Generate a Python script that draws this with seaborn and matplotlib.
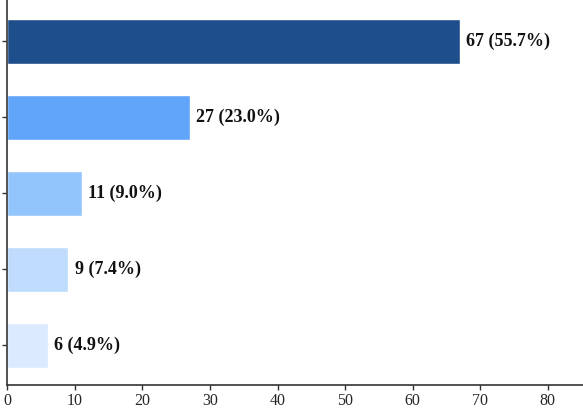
import matplotlib
matplotlib.use("Agg")
import matplotlib.pyplot as plt
import seaborn as sns
import pandas as pd

# Values (category names are not shown in the picture)
categories = ["Category 1", "Category 2", "Category 3", "Category 4", "Category 5"]
counts = [67, 27, 11, 9, 6]
percents = [55.7, 23.0, 9.0, 7.4, 4.9]
colors = ["#1f4e8c", "#60a5fa", "#93c5fd", "#bfdbfe", "#dbeafe"]

df = pd.DataFrame({"category": categories, "count": counts})

sns.set_style("white")
plt.rcParams["font.family"] = ["Liberation Serif", "DejaVu Serif"]

fig = plt.figure(figsize=(5.83, 4.09), dpi=100)
ax = fig.add_axes([0.0125, 0.059, 0.9875, 0.941])

sns.barplot(data=df, x="count", y="category", hue="category", palette=colors,
            orient="h", width=0.59, legend=False, ax=ax, saturation=1)

# Value labels
for i, (c, p) in enumerate(zip(counts, percents)):
    ax.text(c + 0.95, i, f"{c} ({p:.1f}%)", va="center", ha="left",
            fontsize=13, fontweight="bold", color="#111111")

ax.set_xlim(0, 85.2)
ax.set_ylim(4.52, -0.546)
ax.set_xticks(range(0, 90, 10))
ax.set_yticklabels([])
ax.set_xlabel("")
ax.set_ylabel("")
ax.tick_params(axis="both", which="both", direction="out", length=3.5, width=1,
               color="#333333", labelsize=11.5, left=True, bottom=True, pad=2.5)
for s in ["top", "right"]:
    ax.spines[s].set_visible(False)
for s in ["left", "bottom"]:
    ax.spines[s].set_color("#333333")
    ax.spines[s].set_linewidth(1.2)

fig.savefig("out.png", dpi=100)
